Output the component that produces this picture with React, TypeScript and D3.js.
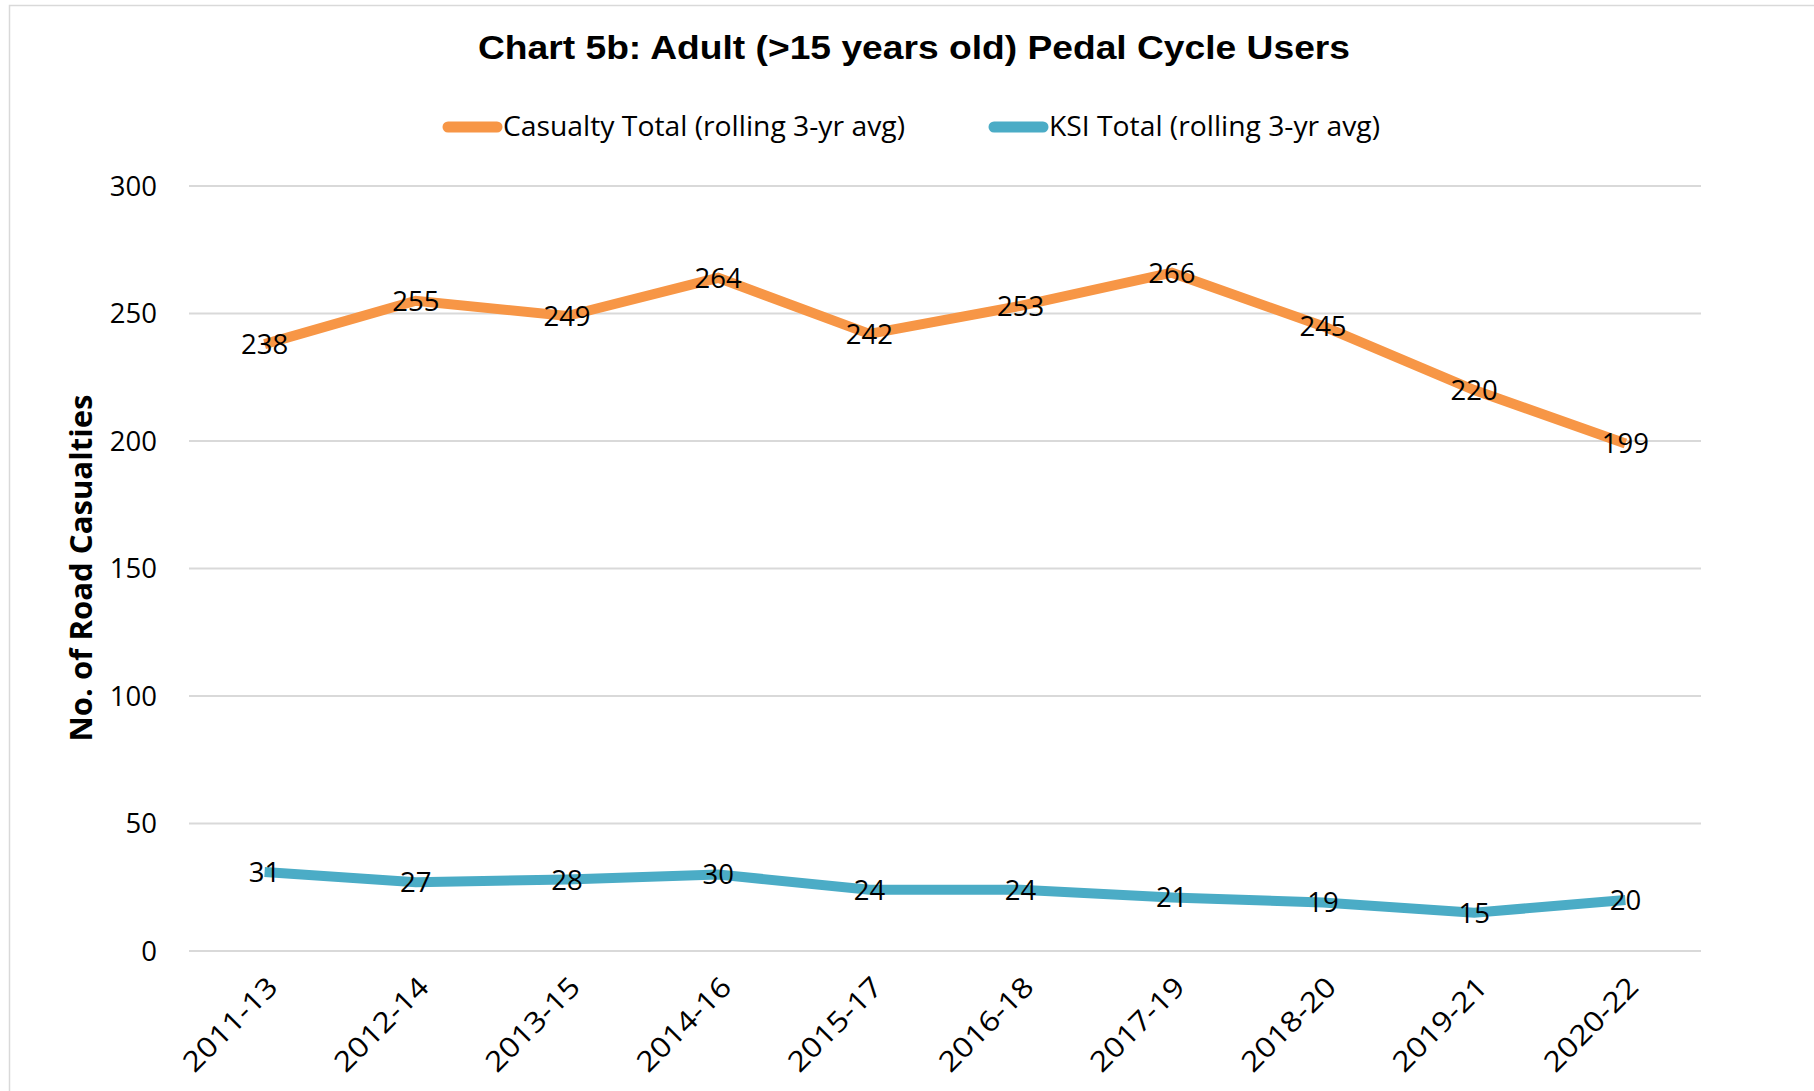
import React from "react";
import * as d3 from "d3";

const categories = ["2011-13","2012-14","2013-15","2014-16","2015-17","2016-18","2017-19","2018-20","2019-21","2020-22"];
const casualtyTotal = [238,255,249,264,242,253,266,245,220,199];
const ksiTotal = [31,27,28,30,24,24,21,19,15,20];
const yTicks = [0,50,100,150,200,250,300];
const seriesNames = ["Casualty Total (rolling 3-yr avg)", "KSI Total (rolling 3-yr avg)"];
const seriesColors = ["#F79646", "#4BACC6"];

const W = 1814, H = 1091;
const plotLeft = 189, plotRight = 1701, plotTop = 186, plotBottom = 951;
const labelFont = "'Open Sans', 'Noto Sans', sans-serif";

export default function App() {
  const x = d3.scaleBand<string>().domain(categories).range([plotLeft, plotRight]);
  const y = d3.scaleLinear().domain([0, 300]).range([plotBottom, plotTop]);
  const cx = (c: string) => (x(c) as number) + x.bandwidth() / 2;
  const line = d3.line<number>().x((_, i) => cx(categories[i])).y(d => y(d));
  const series = [casualtyTotal, ksiTotal];
  const legendX = [443, 989];
  const legendLen = [402, 331];

  return (
    <svg width={W} height={H} style={{ position: "absolute", left: 0, top: 0, background: "#fff" }}>
      <rect x={0} y={0} width={W} height={H} fill="#fff" />
      <rect x={9.5} y={5.5} width={W + 50} height={H + 50} fill="none" stroke="#D9D9D9" strokeWidth={1.5} />
      <text x={914} y={59} textAnchor="middle" fontFamily="'Liberation Sans', Arial, sans-serif" fontWeight="bold" fontSize={33} textLength={872} lengthAdjust="spacingAndGlyphs" fill="#000">
        Chart 5b: Adult (&gt;15 years old) Pedal Cycle Users
      </text>
      {seriesNames.map((n, i) => (
        <g key={n}>
          <line x1={legendX[i] + 5} x2={legendX[i] + 54} y1={127} y2={127} stroke={seriesColors[i]} strokeWidth={11} strokeLinecap="round" />
          <text x={legendX[i] + 60} y={136} fontFamily={labelFont} fontSize={26.5} textLength={legendLen[i]} lengthAdjust="spacingAndGlyphs" fill="#000">{n}</text>
        </g>
      ))}
      {yTicks.map(t => (
        <g key={t}>
          <line x1={plotLeft} x2={plotRight} y1={y(t)} y2={y(t)} stroke="#D9D9D9" strokeWidth={2} />
          <text x={157} y={y(t)} dy="0.36em" textAnchor="end" fontFamily={labelFont} fontSize={27.5} fill="#000">{t}</text>
        </g>
      ))}
      <text transform={`translate(92,568) rotate(-90)`} textAnchor="middle" fontFamily={labelFont} fontWeight="bold" fontSize={30} textLength={347} lengthAdjust="spacingAndGlyphs" fill="#000">
        No. of Road Casualties
      </text>
      {categories.map(c => (
        <text key={c} transform={`translate(${cx(c) + 1},${plotBottom + 24}) rotate(-45)`} textAnchor="end" dy="0.7em" fontFamily={labelFont} fontSize={28} textLength={120} lengthAdjust="spacingAndGlyphs" fill="#000">{c}</text>
      ))}
      {series.map((s, i) => (
        <path key={i} d={line(s) as string} fill="none" stroke={seriesColors[i]} strokeWidth={10} strokeLinejoin="miter" />
      ))}
      {series.map((s, i) => s.map((v, j) => (
        <text key={`${i}-${j}`} x={cx(categories[j])} y={y(v)} dy="0.36em" textAnchor="middle" fontFamily={labelFont} fontSize={27.5} fill="#000">{v}</text>
      )))}
    </svg>
  );
}
